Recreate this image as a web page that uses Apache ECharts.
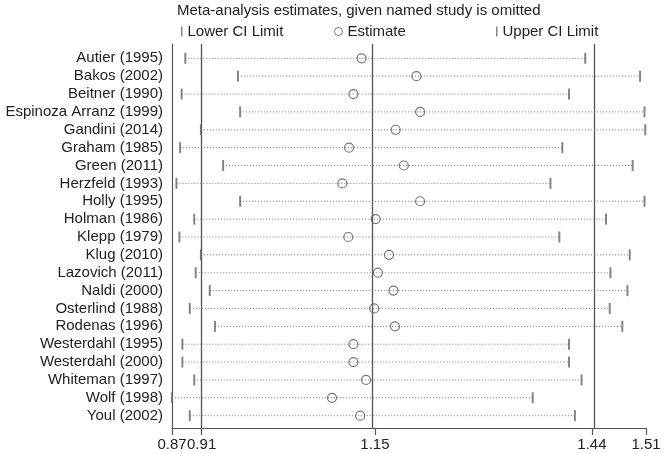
<!DOCTYPE html>
<html>
<head>
<meta charset="utf-8">
<script src="https://cdn.jsdelivr.net/npm/echarts@6/dist/echarts.min.js"></script>
<style>
  html, body { margin: 0; padding: 0; background: #fff; }
  #chart { width: 666px; height: 454px; }
</style>
</head>
<body>
<div id="chart"></div>
<script>
// studies, top to bottom
const studies = [
  'Autier (1995)', 'Bakos (2002)', 'Beitner (1990)', 'Espinoza Arranz (1999)',
  'Gandini (2014)', 'Graham (1985)', 'Green (2011)', 'Herzfeld (1993)',
  'Holly (1995)', 'Holman (1986)', 'Klepp (1979)', 'Klug (2010)',
  'Lazovich (2011)', 'Naldi (2000)', 'Osterlind (1988)', 'Rodenas (1996)',
  'Westerdahl (1995)', 'Westerdahl (2000)', 'Whiteman (1997)', 'Wolf (1998)',
  'Youl (2002)'
];
const lowerCI = [0.888, 0.959, 0.883, 0.962, 0.909, 0.881, 0.939, 0.876, 0.962, 0.900,
  0.880, 0.909, 0.902, 0.921, 0.894, 0.928, 0.884, 0.884, 0.900, 0.870, 0.894];
const estimate = [1.126, 1.200, 1.115, 1.205, 1.172, 1.109, 1.183, 1.100, 1.205, 1.145,
  1.108, 1.163, 1.148, 1.169, 1.143, 1.171, 1.115, 1.115, 1.132, 1.086, 1.124];
const upperCI = [1.428, 1.502, 1.406, 1.508, 1.509, 1.397, 1.492, 1.381, 1.508, 1.456,
  1.393, 1.488, 1.462, 1.485, 1.461, 1.478, 1.406, 1.406, 1.423, 1.357, 1.414];

// overall estimate and its CI (vertical reference lines)
const refLines = [0.91, 1.144, 1.437];
const tickValues = [0.87, 0.91, 1.144, 1.437, 1.51];
const tickLabels = ['0.87', '0.91', '1.15', '1.44', '1.51'];

const FONT = 'Liberation Sans, Arial, Helvetica, sans-serif';
const TXT = '#222';
const GRAY = '#555';

const chart = echarts.init(document.getElementById('chart'));

const rows = studies.map((_, i) => i);
const legendText = { fontSize: 15, color: TXT, fontFamily: FONT };

chart.setOption({
  animation: false,
  textStyle: { fontFamily: FONT },
  title: {
    text: 'Meta-analysis estimates, given named study is omitted',
    left: 177, top: 3, padding: 0,
    textStyle: { fontSize: 15, fontWeight: 'normal', color: TXT, fontFamily: FONT }
  },
  legend: [
    { data: ['Lower CI Limit'], left: 176, top: 19, icon: 'rect', itemWidth: 1.5, itemHeight: 10,
      textStyle: legendText },
    { data: ['Estimate'], left: 329, top: 19, itemWidth: 8, itemHeight: 8,
      itemStyle: { borderWidth: 1 }, textStyle: legendText },
    { data: ['Upper CI Limit'], left: 491, top: 19, icon: 'rect', itemWidth: 1.5, itemHeight: 10,
      textStyle: legendText }
  ],
  grid: { left: 172, right: 20, top: 44, bottom: 26 },
  xAxis: {
    type: 'value', min: 0.87, max: 1.51,
    splitLine: { show: false },
    axisLine: { onZero: false, lineStyle: { color: GRAY, width: 1 } },
    axisTick: { customValues: tickValues, length: 7, lineStyle: { color: GRAY, width: 1.2 } },
    axisLabel: {
      customValues: tickValues, margin: 9, fontSize: 15, color: TXT, fontFamily: FONT,
      formatter: v => tickLabels[tickValues.indexOf(v)]
    }
  },
  yAxis: {
    type: 'value', inverse: true, min: -0.8, max: 20.69,
    splitLine: { show: false },
    axisLine: { show: true, onZero: false, lineStyle: { color: GRAY, width: 1.2 } },
    axisTick: { show: false },
    axisLabel: {
      customValues: rows, margin: 9, fontSize: 15, color: TXT, fontFamily: FONT,
      formatter: v => studies[v]
    }
  },
  series: [
    {
      type: 'custom',
      name: 'CI range',
      data: rows.map(i => [lowerCI[i], upperCI[i], i]),
      encode: { x: [0, 1], y: 2 },
      renderItem: (params, api) => {
        const a = api.coord([api.value(0), api.value(2)]);
        const b = api.coord([api.value(1), api.value(2)]);
        return {
          type: 'line',
          shape: { x1: a[0], y1: a[1], x2: b[0], y2: b[1] },
          style: { stroke: '#777', lineWidth: 1, lineDash: [1, 2] }
        };
      },
      markLine: {
        silent: true, symbol: 'none', label: { show: false },
        lineStyle: { type: 'solid', color: GRAY, width: 1.3 },
        data: refLines.map(v => ({ xAxis: v }))
      }
    },
    {
      type: 'scatter', name: 'Lower CI Limit',
      data: rows.map(i => [lowerCI[i], i]),
      symbol: 'rect', symbolSize: [2, 11],
      itemStyle: { color: '#666' }
    },
    {
      type: 'scatter', name: 'Upper CI Limit',
      data: rows.map(i => [upperCI[i], i]),
      symbol: 'rect', symbolSize: [2, 11],
      itemStyle: { color: '#666' }
    },
    {
      type: 'scatter', name: 'Estimate',
      data: rows.map(i => [estimate[i], i]),
      symbol: 'circle', symbolSize: 9,
      itemStyle: { color: 'rgba(0,0,0,0)', borderColor: GRAY, borderWidth: 1.2 }
    }
  ]
});
</script>
</body>
</html>
